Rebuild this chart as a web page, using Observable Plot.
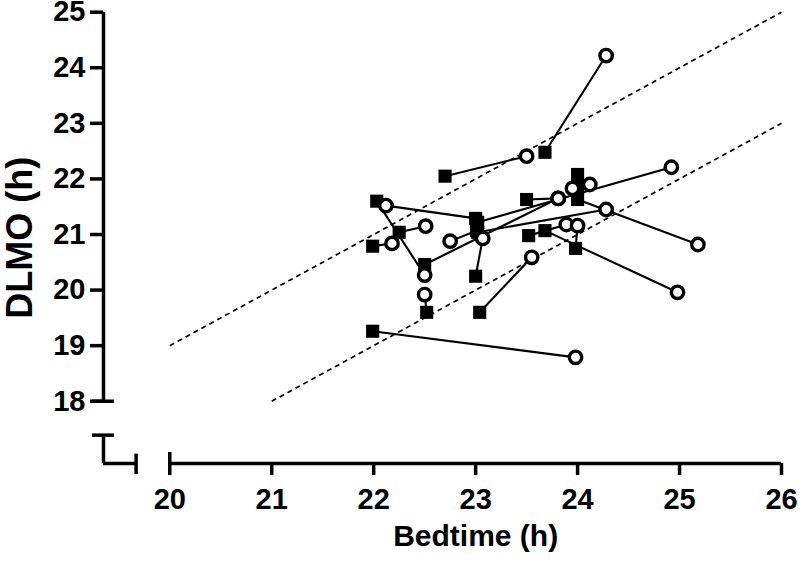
<!DOCTYPE html>
<html>
<head>
<meta charset="utf-8">
<script src="https://cdn.jsdelivr.net/npm/d3@7"></script>
<script src="https://cdn.jsdelivr.net/npm/@observablehq/plot@0.6"></script>
<style>
  html, body { margin: 0; padding: 0; background: #fff; }
  svg { font-family: "Liberation Sans", Arial, sans-serif; font-weight: bold; overflow: visible; }
</style>
</head>
<body>
<div id="chart"></div>
<script>
// Paired observations: square = one condition, circle = the other
const bedtimeSquare = [22.70, 23.68, 22.03, 23.00, 22.52, 22.25, 21.99, 23.01, 23.00, 23.04, 21.99, 23.68, 24.00, 22.50, 23.02, 23.02, 23.50, 24.00, 24.00, 23.52, 23.98];
const dlmoSquare    = [22.05, 22.48, 21.60, 21.29, 19.60, 21.04, 20.79, 21.07, 20.25, 19.60, 19.26, 21.07, 21.63, 20.46, 21.22, 21.04, 21.63, 22.08, 21.85, 20.98, 20.75];
const bedtimeCircle = [23.50, 24.28, 22.50, 22.12, 22.50, 22.51, 22.18, 22.75, 23.07, 23.55, 23.98, 24.98, 25.18, 23.81, 24.92, 24.28, 23.81, 24.12, 23.95, 23.89, 24.00];
const dlmoCircle    = [22.41, 24.22, 20.27, 21.52, 19.92, 21.15, 20.84, 20.88, 20.93, 20.59, 18.79, 19.96, 20.82, 21.65, 22.21, 21.45, 21.65, 21.90, 21.83, 21.18, 21.16];

// Reference lines DLMO = Bedtime - offset
const refStart  = [20, 21];
const refEnd    = [26, 26];
const refOffset = [1, 3];

// Axis ticks
const xTicks = [20, 21, 22, 23, 24, 25, 26];
const yTicks = [18, 19, 20, 21, 22, 23, 24, 25];

// Broken-axis extents
const xAxisMin = 19.35, xStubEnd = 19.67, xMainStart = 20, xMainEnd = 26;
const yAxisMin = 16.88, yStubTop = 17.39, yMainStart = 18, yMainEnd = 25;

const pairs = bedtimeSquare.map((b, i) => ({
  bs: b, ds: dlmoSquare[i], bc: bedtimeCircle[i], dc: dlmoCircle[i]
}));
const refs = refStart.map((s, i) => ({ x1: s, x2: refEnd[i], off: refOffset[i] }));

const W = 800, H = 579;
const mL = 103, mR = 19, mT = 11.7, mB = 116;
const pxX = (W - mL - mR) / (xMainEnd - xAxisMin);   // pixels per x unit
const pxY = (H - mT - mB) / (yMainEnd - yAxisMin);   // pixels per y unit
const capX = 11 / pxX, capY = 11 / pxY;
const AW = 3.5;

const chart = Plot.plot({
  width: W, height: H,
  marginLeft: mL, marginRight: mR, marginTop: mT, marginBottom: mB,
  x: { domain: [xAxisMin, xMainEnd] },
  y: { domain: [yAxisMin, yMainEnd] },
  marks: [
    // dashed reference lines
    Plot.link(refs, { x1: "x1", y1: d => d.x1 - d.off, x2: "x2", y2: d => d.x2 - d.off,
      stroke: "black", strokeWidth: 1.7, strokeDasharray: "5,4" }),
    // pair connectors
    Plot.link(pairs, { x1: "bs", y1: "ds", x2: "bc", y2: "dc", stroke: "black", strokeWidth: 2.1 }),
    // squares
    Plot.dot(pairs, { x: "bs", y: "ds", symbol: "square", r: 7.4, fill: "black", stroke: "none" }),
    // circles
    Plot.dot(pairs, { x: "bc", y: "dc", r: 6.2, fill: "white", stroke: "black", strokeWidth: 3.4 }),

    // y axis main segment + caps
    Plot.ruleX([xAxisMin], { y1: yMainStart, y2: yMainEnd, strokeWidth: AW }),
    Plot.ruleY([yMainStart], { x1: xAxisMin - capX, x2: xAxisMin + capX, strokeWidth: AW }),
    Plot.axisY({ ticks: yTicks, tickFormat: d => String(d), tickSize: 13, tickPadding: 5,
      fontSize: 29, fontWeight: "bold", strokeWidth: AW, label: null }),
    // lower y stub
    Plot.ruleX([xAxisMin], { y1: yAxisMin, y2: yStubTop, strokeWidth: AW }),
    Plot.ruleY([yStubTop], { x1: xAxisMin - capX, x2: xAxisMin + capX, strokeWidth: AW }),
    // left x stub
    Plot.ruleY([yAxisMin], { x1: xAxisMin, x2: xStubEnd, strokeWidth: AW }),
    Plot.ruleX([xStubEnd], { y1: yAxisMin - capY, y2: yAxisMin + capY * 0.85, strokeWidth: AW }),
    // x axis main segment + caps
    Plot.ruleY([yAxisMin], { x1: xMainStart, x2: xMainEnd, strokeWidth: AW }),
    Plot.ruleX([xMainStart], { y1: yAxisMin, y2: yAxisMin + capY, strokeWidth: AW }),
    Plot.axisX({ ticks: xTicks, tickFormat: d => String(d), tickSize: 12, tickPadding: 13,
      fontSize: 29, fontWeight: "bold", strokeWidth: AW, label: null }),

    // axis titles
    Plot.text(["DLMO (h)"], { frameAnchor: "left", textAnchor: "middle", dx: -83, rotate: -90,
      fontSize: 36, fontWeight: "bold", fill: "black" }),
    Plot.text(["Bedtime (h)"], { x: (xMainStart + xMainEnd) / 2, frameAnchor: "bottom", dy: 82,
      fontSize: 30, fontWeight: "bold", fill: "black" })
  ]
});
document.getElementById("chart").appendChild(chart);
</script>
</body>
</html>
